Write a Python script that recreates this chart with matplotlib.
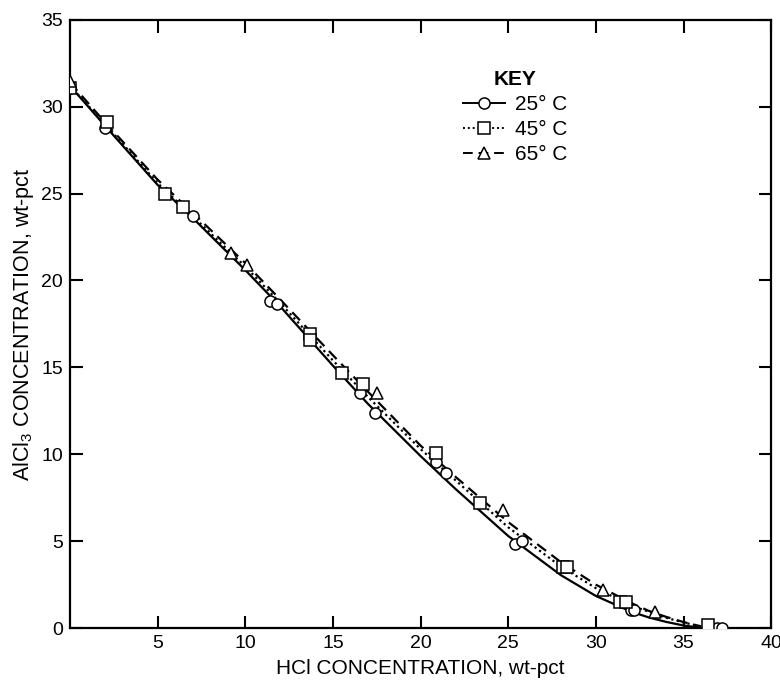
import matplotlib
matplotlib.use('Agg')
import matplotlib.pyplot as plt

plt.rcParams['font.family'] = ['Liberation Sans', 'DejaVu Sans']
plt.rcParams['mathtext.default'] = 'regular'

# measured points, wt-pct HCl vs wt-pct AlCl3
hcl_25 = [0.0, 2.0, 7.0, 11.4, 11.8, 16.55, 17.4, 20.9, 21.45, 25.4, 25.8, 32.0, 32.2, 36.9, 37.2]
alcl3_25 = [31.1, 28.8, 23.7, 18.8, 18.65, 13.5, 12.4, 9.55, 8.9, 4.85, 5.0, 1.05, 1.05, 0.0, 0.0]

hcl_45 = [0.0, 2.1, 5.4, 6.45, 13.7, 13.7, 15.5, 16.7, 20.9, 23.4, 28.1, 28.35, 31.4, 31.7, 36.4]
alcl3_45 = [31.1, 29.1, 25.0, 24.2, 16.9, 16.6, 14.7, 14.05, 10.05, 7.2, 3.5, 3.5, 1.5, 1.5, 0.2]

hcl_65 = [0.0, 9.2, 10.1, 17.5, 24.7, 30.4, 33.4]
alcl3_65 = [31.5, 21.6, 20.9, 13.5, 6.8, 2.2, 0.9]

# smoothed solubility curves
curve_x_25 = [0, 2, 5, 7, 10, 12, 15, 17, 20, 22, 25, 28, 30, 32, 33, 34, 35, 36]
curve_y_25 = [31.2, 28.9, 25.5, 23.6, 20.6, 18.5, 15.1, 12.9, 9.9, 8.0, 5.3, 3.05, 1.85, 0.95, 0.62, 0.36, 0.15, 0.02]

curve_x_45 = [0, 2, 5, 7, 10, 12, 15, 17, 20, 22, 25, 28, 30, 32, 33, 34, 35, 36]
curve_y_45 = [31.2, 29.0, 25.6, 23.7, 20.8, 18.7, 15.4, 13.3, 10.3, 8.5, 5.8, 3.55, 2.3, 1.3, 0.95, 0.6, 0.32, 0.1]

curve_x_65 = [0, 2, 5, 7, 10, 12, 15, 17, 20, 22, 25, 28, 30, 32, 33, 34, 35, 36]
curve_y_65 = [31.4, 29.1, 25.8, 23.9, 21.0, 18.9, 15.7, 13.6, 10.5, 8.7, 6.1, 3.8, 2.5, 1.45, 1.0, 0.65, 0.35, 0.1]

fig = plt.figure(figsize=(7.8, 6.82), dpi=100)
ax = fig.add_axes([0.0897, 0.079, 0.899, 0.892])

mk = dict(markerfacecolor='white', markeredgecolor='black', markeredgewidth=1.1, markersize=8)

ax.plot(curve_x_25, curve_y_25, color='black', lw=1.6, ls='-')
ax.plot(curve_x_45, curve_y_45, color='black', lw=1.6, ls=(0, (1, 1.5)))
ax.plot(curve_x_65, curve_y_65, color='black', lw=1.6, ls=(0, (5, 3)))

ax.plot(hcl_25, alcl3_25, 'o', color='black', zorder=3, **mk)
ax.plot(hcl_45, alcl3_45, 's', color='black', zorder=3, **mk)
ax.plot(hcl_65, alcl3_65, '^', color='black', zorder=3, **mk)

# legend entries: line + marker
h25, = ax.plot([], [], color='black', lw=1.4, ls='-', marker='o', **mk)
h45, = ax.plot([], [], color='black', lw=1.4, ls=(0, (1, 1.5)), marker='s', **mk)
h65, = ax.plot([], [], color='black', lw=1.4, ls=(0, (5, 3)), marker='^', **mk)
leg = ax.legend([h25, h45, h65], ['25° C', '45° C', '65° C'],
                title='KEY', loc='upper left', bbox_to_anchor=(0.54, 0.942),
                frameon=False, handlelength=2.0, handletextpad=0.5,
                labelspacing=0.3, fontsize=15, numpoints=1, borderpad=0.2)
leg.get_title().set_fontweight('bold')
leg.get_title().set_fontsize(15)

ax.set_xlim(0, 40)
ax.set_ylim(0, 35)
ax.set_xticks([5, 10, 15, 20, 25, 30, 35, 40])
ax.set_yticks([0, 5, 10, 15, 20, 25, 30, 35])
ax.tick_params(direction='in', length=9, width=1.5, top=True, right=True,
               labelsize=14, pad=5)

for s in ax.spines.values():
    s.set_linewidth(1.6)

ax.set_xlabel('HCl CONCENTRATION, wt-pct', fontsize=15, labelpad=5)
ax.set_ylabel('AlCl$_3$ CONCENTRATION, wt-pct', fontsize=15.5, labelpad=4)

fig.savefig('out.png', dpi=100)
